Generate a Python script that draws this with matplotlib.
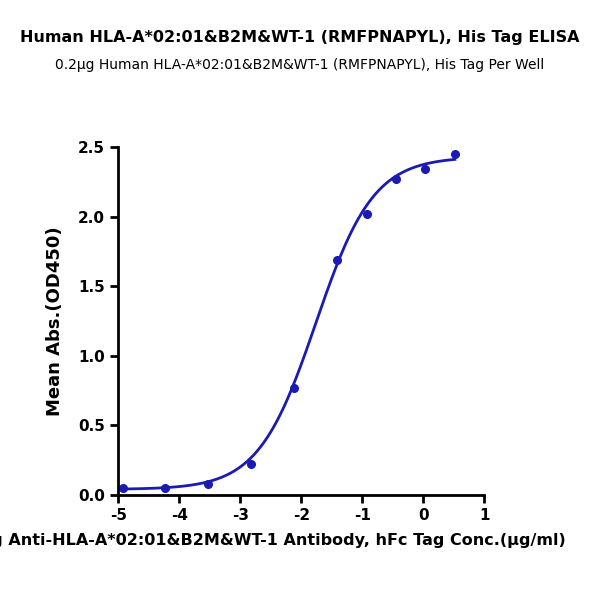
import numpy as np
import matplotlib
matplotlib.use("Agg")
import matplotlib.pyplot as plt

log_conc = [-4.92, -4.23, -3.52, -2.82, -2.12, -1.41, -0.92, -0.45, 0.03, 0.52]
od450 = [0.05, 0.05, 0.08, 0.22, 0.77, 1.69, 2.02, 2.27, 2.34, 2.45]
# 4PL fit parameters: bottom, top, logEC50, hill
fit = [0.04, 2.43, -1.76, 0.92]
xticks = [-5, -4, -3, -2, -1, 0, 1]
yticks = [0.0, 0.5, 1.0, 1.5, 2.0, 2.5]

plt.rcParams['font.family'] = ['DejaVu Sans']
plt.rcParams['axes.unicode_minus'] = False
fig = plt.figure(figsize=(6, 6), dpi=100)
ax = fig.add_axes([0.197, 0.175, 0.61, 0.58])
c = '#1a1ab5'
xs = np.linspace(min(log_conc), max(log_conc), 300)
b, t, e, h = fit
ax.plot(xs, b + (t - b) / (1 + 10 ** ((e - xs) * h)), color=c, lw=2)
ax.plot(log_conc, od450, 'o', color=c, ms=5.5)
ax.set_xlim(-5, 1)
ax.set_ylim(0, 2.5)
ax.set_xticks(xticks)
ax.set_yticks(yticks)
ax.set_yticklabels([f"{v:.1f}" for v in yticks])
for s in ['top', 'right']:
    ax.spines[s].set_visible(False)
for s in ['left', 'bottom']:
    ax.spines[s].set_linewidth(2)
ax.tick_params(width=2, length=6, labelsize=11)
for l in ax.get_xticklabels() + ax.get_yticklabels():
    l.set_fontweight('bold')
ax.set_ylabel('Mean Abs.(OD450)', fontsize=13, fontweight='bold', labelpad=10)
ax.set_xlabel('Log Anti-HLA-A*02:01&B2M&WT-1 Antibody, hFc Tag Conc.(μg/ml)', fontsize=11.5, fontweight='bold', labelpad=14)
ax.xaxis.set_label_coords(0.41, -0.11)
fig.text(0.5, 0.93, 'Human HLA-A*02:01&B2M&WT-1 (RMFPNAPYL), His Tag ELISA', ha='center', fontsize=11.5, fontweight='bold')
fig.text(0.5, 0.885, '0.2μg Human HLA-A*02:01&B2M&WT-1 (RMFPNAPYL), His Tag Per Well', ha='center', fontsize=10)
fig.savefig('out.png')
